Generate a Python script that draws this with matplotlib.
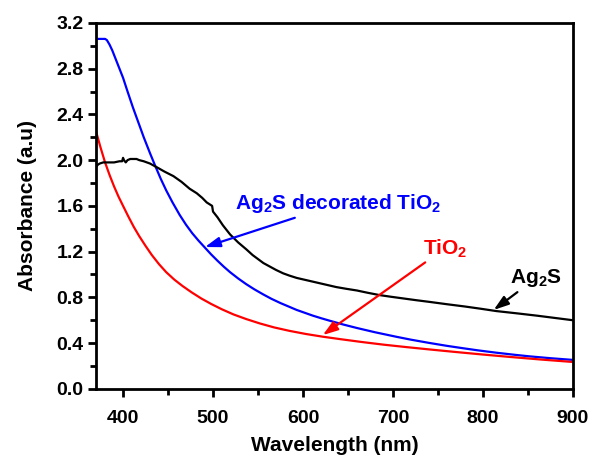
import matplotlib
matplotlib.use("Agg")
import matplotlib.pyplot as plt
from matplotlib.ticker import MultipleLocator

plt.rcParams['font.family'] = ['Liberation Sans', 'DejaVu Sans']
plt.rcParams['font.weight'] = 'bold'
plt.rcParams['mathtext.fontset'] = 'custom'
plt.rcParams['mathtext.rm'] = 'Liberation Sans:bold'
plt.rcParams['mathtext.bf'] = 'Liberation Sans:bold'
plt.rcParams['mathtext.default'] = 'bf'

# Ag2S decorated TiO2 (blue)
wl_blue = [370, 380, 382, 385, 388, 391, 395, 400, 405, 411, 417, 423, 430, 436, 442, 448,
           455, 463, 470, 477, 484, 491, 498, 505, 512, 519, 528, 537, 546, 556, 565, 575,
           584, 593, 602, 611, 620, 630, 645, 660, 680, 704, 720, 740, 760, 778, 795, 815,
           835, 852, 875, 900]
abs_blue = [3.06, 3.06, 3.05, 3.01, 2.96, 2.90, 2.82, 2.72, 2.60, 2.46, 2.33, 2.20, 2.06,
            1.945, 1.835, 1.735, 1.63, 1.52, 1.435, 1.36, 1.295, 1.235, 1.175, 1.12, 1.068,
            1.02, 0.965, 0.915, 0.87, 0.825, 0.787, 0.75, 0.72, 0.69, 0.665, 0.64, 0.618,
            0.595, 0.562, 0.532, 0.495, 0.455, 0.43, 0.402, 0.376, 0.355, 0.336, 0.316,
            0.298, 0.284, 0.268, 0.253]

# TiO2 (red)
wl_red = [370, 375, 380, 385, 390, 395, 400, 406, 412, 418, 425, 432, 440, 448, 457, 466,
          476, 487, 498, 510, 523, 537, 552, 568, 585, 603, 622, 642, 665, 690, 715, 740,
          770, 800, 830, 865, 900]
abs_red = [2.25, 2.11, 1.98, 1.87, 1.77, 1.68, 1.60, 1.505, 1.415, 1.335, 1.25, 1.17, 1.09,
           1.02, 0.955, 0.90, 0.845, 0.79, 0.742, 0.695, 0.65, 0.61, 0.572, 0.537, 0.507,
           0.48, 0.456, 0.434, 0.41, 0.386, 0.365, 0.345, 0.322, 0.3, 0.279, 0.256, 0.235]

# Ag2S (black)
wl_black = [370, 372, 374, 378, 384, 390, 396, 399, 400, 401, 403, 405, 408, 411, 415,
            418, 423, 430, 437, 446, 456, 465, 474, 482, 488, 493, 497, 499, 500, 502, 505,
            511, 519, 528, 537, 544, 550, 556, 563, 570, 578, 585, 593, 604, 615, 626, 637,
            648, 660, 672, 685, 698, 712, 726, 741, 760, 780, 798, 815, 838, 860, 880, 900]
abs_black = [1.94, 1.96, 1.97, 1.98, 1.98, 1.98, 1.99, 1.99, 2.02, 2.00, 1.98, 2.00, 2.01,
             2.01, 2.01, 2.00, 1.99, 1.97, 1.94, 1.90, 1.86, 1.81, 1.75, 1.71, 1.67, 1.63,
             1.61, 1.60, 1.55, 1.53, 1.50, 1.43, 1.35, 1.28, 1.22, 1.17, 1.135, 1.10, 1.07,
             1.04, 1.01, 0.99, 0.97, 0.95, 0.93, 0.91, 0.89, 0.875, 0.86, 0.84, 0.82, 0.805,
             0.79, 0.775, 0.76, 0.74, 0.72, 0.70, 0.68, 0.66, 0.64, 0.62, 0.60]

x_ticks = [400, 500, 600, 700, 800, 900]
y_ticks = [0.0, 0.4, 0.8, 1.2, 1.6, 2.0, 2.4, 2.8, 3.2]

fig = plt.figure(figsize=(5.93, 4.58), dpi=100)
ax = fig.add_axes([0.162, 0.151, 0.804, 0.799])

ax.plot(wl_blue, abs_blue, color='#0000ff', lw=1.6)
ax.plot(wl_red, abs_red, color='#ff0000', lw=1.6)
ax.plot(wl_black, abs_black, color='black', lw=1.6)

ax.set_xlim(370, 900)
ax.set_ylim(0, 3.2)
ax.set_xticks(x_ticks)
ax.set_yticks(y_ticks)
ax.set_yticklabels([f"{v:.1f}" for v in y_ticks])
ax.xaxis.set_minor_locator(MultipleLocator(50))
ax.yaxis.set_minor_locator(MultipleLocator(0.2))
ax.tick_params(which='major', direction='out', length=6, width=2, labelsize=14, pad=3)
ax.tick_params(axis='x', which='major', pad=9)
ax.tick_params(which='minor', direction='out', length=4, width=2)
ax.tick_params(top=False, right=False, which='both')
for s in ax.spines.values():
    s.set_linewidth(2)

ax.set_xlabel('Wavelength (nm)', fontsize=15, fontweight='bold', labelpad=6.5)
ax.set_ylabel('Absorbance (a.u)', fontsize=15, fontweight='bold', labelpad=14)

arrow_kw = dict(arrowstyle='-|>,head_length=0.6,head_width=0.2', lw=1.6,
                shrinkA=0, shrinkB=0)
ax.annotate('Ag$_2$S decorated TiO$_2$', xy=(491, 1.24), xytext=(525, 1.52),
            color='#0000ff', fontsize=15, fontweight='bold', ha='left', va='bottom',
            arrowprops=dict(color='#0000ff', **arrow_kw))
ax.annotate('TiO$_2$', xy=(622, 0.47), xytext=(733, 1.13),
            color='#ff0000', fontsize=15, fontweight='bold', ha='left', va='bottom',
            arrowprops=dict(color='#ff0000', **arrow_kw))
ax.annotate('Ag$_2$S', xy=(812, 0.69), xytext=(830, 0.87),
            color='black', fontsize=15, fontweight='bold', ha='left', va='bottom',
            arrowprops=dict(color='black', **arrow_kw))

fig.savefig('out.png', dpi=100)
